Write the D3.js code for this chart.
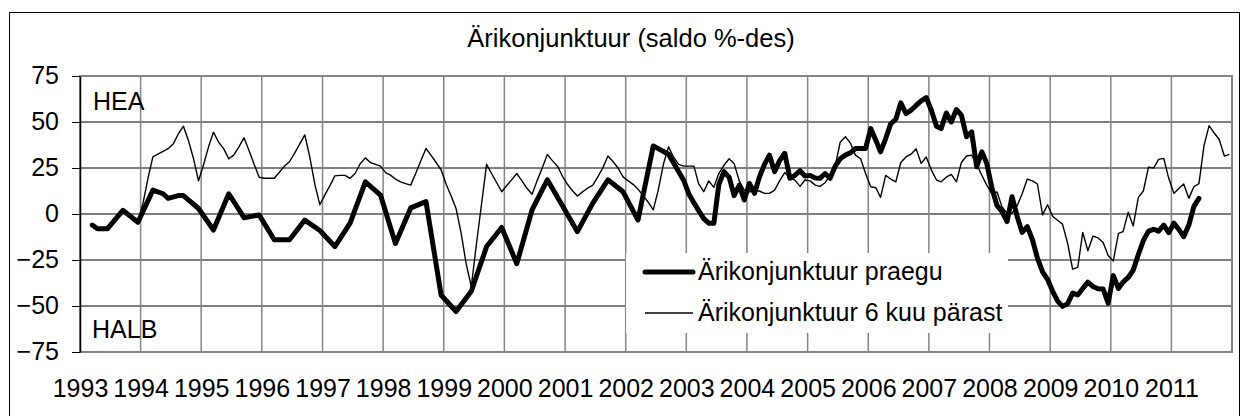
<!DOCTYPE html>
<html>
<head>
<meta charset="utf-8">
<script src="https://cdnjs.cloudflare.com/ajax/libs/d3/7.8.5/d3.min.js"></script>
<style>
  body { margin: 0; background: #fff; }
  text { font-family: "Liberation Sans", Arial, sans-serif; fill: #000; }
</style>
</head>
<body>
<div id="chart"></div>
<script>
// tick labels
var years = ["1993","1994","1995","1996","1997","1998","1999","2000","2001","2002",
             "2003","2004","2005","2006","2007","2008","2009","2010","2011"];
var yTicks = [-75, -50, -25, 0, 25, 50, 75];

// Ärikonjunktuur praegu - quarterly (and a few extra points) until 2002
var praeguDates = ["1993-03","1993-04","1993-06","1993-09","1993-12",
  "1994-03","1994-05","1994-06","1994-08","1994-09","1994-12",
  "1995-03","1995-06","1995-09","1995-12","1996-03","1996-06","1996-09","1996-12",
  "1997-03","1997-06","1997-09","1997-12","1998-03","1998-06","1998-09","1998-12",
  "1999-03","1999-06","1999-09","1999-12","2000-03","2000-06","2000-09","2000-12",
  "2001-03","2001-06","2001-09","2001-12","2002-03","2002-06","2002-09","2002-12"];
var praeguValues = [-6,-8,-8,2,-4.5,
  13,11,8.5,10,10,3,
  -8.7,11,-2,-0.5,-14,-14,-3.3,-9,
  -17.7,-5,17.5,10.3,-16,3.3,6.7,-44,
  -53,-42,-17.7,-7.3,-27,2.2,18.6,4.5,
  -9.6,5.8,18.6,12.1,-3.3,37,32.5,18.4];

// Ärikonjunktuur praegu - monthly from 2003-01
var praeguMonthlyStart = "2003-01";
var praeguMonthly = [
  11,6,2,-2.5,-5,-5,16,23,20,10,15.7,7.6,                       // 2003
  16.6,11.2,20,27,32,23,29,33,19.4,21,23.5,20.6,                // 2004
  21,19.5,19.4,22,19.4,26,30,32,33.3,35.6,35.6,35.6,            // 2005
  46.4,40,33.8,41,49,51.5,60.4,54.6,56.4,59,61.5,63.3,          // 2006
  56.4,47.7,46.4,54.9,50,56.8,53.7,42,44.6,25.7,33.8,27.5,      // 2007
  14,4.5,1.4,-4.1,9.4,-1.3,-10,-6.9,-14,-24,-31.5,-35.5,        // 2008
  -42,-47.5,-50.2,-48.8,-43,-44,-40.5,-37,-39.5,-40.6,-40.8,-48.4, // 2009
  -33.5,-40.5,-37,-34.5,-30.5,-22,-14.5,-9.3,-8.3,-9.3,-6,-10.1, // 2010
  -5,-8.5,-12.3,-6,4,8.5                                         // 2011
];

// Ärikonjunktuur 6 kuu pärast - monthly from 1993-12
var paristStart = "1993-12";
var paristValues = [
  -4,                                                            // 1993
  6,20,31,32.5,34,35.5,38,43.5,47.7,40,30,18,                    // 1994
  27,37,44.5,39,35.5,30,32,36.5,41.4,34.5,27,20,                 // 1995
  19.4,19.4,19.4,22.7,26,28.4,33,38,43,31,16,5,                  // 1996
  10.5,15.7,20.7,21,21,19.4,22,27.3,30.5,28,27,26,               // 1997
  22.5,21,19,17.5,16.5,15.7,22,29,35.6,32,28,24,                 // 1998
  16,9.5,3,-10.5,-27,-39.4,-17,5,27,22,17,12.1,                  // 1999
  15.5,18.8,22,18,14,10.7,18,25,32.4,29,26,20.5,                 // 2000
  16,12.5,9.8,12,14,15.5,20,25,31.5,28.5,25,20.2,                // 2001
  18,16,13.5,10,6.5,2.2,13,27,36.5,31,27,26,                     // 2002
  26,26,16.5,12.1,18,14.5,22,26.5,30,27.5,18,13,                 // 2003
  12,12.5,12.5,11.2,11.2,13,18,22.5,19.5,18.4,15,18.5,           // 2004
  18,15.7,15,17,21,26,39,42,38.5,32,30,22,                       // 2005
  14.8,14.3,9,21,19,17.5,28,31,32.5,35.5,27.5,31,                // 2006
  24,18.5,17.5,20,21.5,17.5,28,31.5,32,27,21,15.7,               // 2007
  11,12,4,0.4,0.4,4.5,11,19,18,16.3,-0.5,5,                      // 2008
  -1.3,-3.5,-5.5,-16,-30,-29,-10,-20,-12,-13,-15.5,-22.5,        // 2009
  -25.5,-10.5,-9.6,1,-6.5,9,12.5,25.5,25,29.7,30.2,19.4,         // 2010
  11.2,14,16.3,8.5,14.8,16.5,37,48,44,40.5,31.5,32.4             // 2011
];

var seriesNames = ["Ärikonjunktuur praegu", "Ärikonjunktuur 6 kuu pärast"];
var titleText = "Ärikonjunktuur (saldo %-des)";

var w = 1248, h = 416;
var fs = 25;
var parseMonth = d3.timeParse("%Y-%m");

// points sit in the middle of their month
function midMonth(s) { return d3.timeDay.offset(parseMonth(s), 15); }

function monthlySeries(start, values) {
  var d0 = parseMonth(start);
  return values.map(function(v, i) {
    return { date: d3.timeDay.offset(d3.timeMonth.offset(d0, i), 15), value: v };
  });
}

var praegu = praeguDates.map(function(d, i) {
  return { date: midMonth(d), value: praeguValues[i] };
}).concat(monthlySeries(praeguMonthlyStart, praeguMonthly));
var parist = monthlySeries(paristStart, paristValues);

var svg = d3.select("#chart").append("svg")
  .attr("width", w)
  .attr("height", h);

svg.append("rect").attr("width", w).attr("height", h).attr("fill", "#fff");

// outer chart frame
svg.append("rect")
  .attr("x", 9.5).attr("y", 12.5)
  .attr("width", 1230).attr("height", 420)
  .attr("fill", "none")
  .attr("stroke", "#000")
  .attr("stroke-width", 1);

var x = d3.scaleTime()
  .domain([new Date(1993, 0, 1), new Date(2012, 0, 1)])
  .range([80, 1232]);
var y = d3.scaleLinear()
  .domain([-75, 75])
  .range([352, 76]);

var plot = svg.append("g");

// horizontal gridlines
plot.selectAll("line.hgrid")
  .data(yTicks.filter(function(t) { return t > -75 && t < 75; }))
  .enter().append("line")
  .attr("class", "hgrid")
  .attr("x1", x.range()[0]).attr("x2", x.range()[1])
  .attr("y1", function(d) { return y(d); })
  .attr("y2", function(d) { return y(d); })
  .attr("stroke", "#000")
  .attr("stroke-width", 1);

// vertical gridlines at year starts
plot.selectAll("line.vgrid")
  .data(years.slice(1))
  .enter().append("line")
  .attr("class", "vgrid")
  .attr("x1", function(d) { return x(new Date(+d, 0, 1)); })
  .attr("x2", function(d) { return x(new Date(+d, 0, 1)); })
  .attr("y1", y(75)).attr("y2", y(-75))
  .attr("stroke", "#858585")
  .attr("stroke-width", 1.5);

// plot frame
plot.append("rect")
  .attr("x", x.range()[0]).attr("y", y(75))
  .attr("width", x.range()[1] - x.range()[0])
  .attr("height", y(-75) - y(75))
  .attr("fill", "none")
  .attr("stroke", "#858585")
  .attr("stroke-width", 2);

var line = d3.line()
  .x(function(d) { return x(d.date); })
  .y(function(d) { return y(d.value); });

plot.append("path")
  .datum(praegu)
  .attr("d", line)
  .attr("fill", "none")
  .attr("stroke", "#000")
  .attr("stroke-width", 5)
  .attr("stroke-linejoin", "round")
  .attr("stroke-linecap", "round");

plot.append("path")
  .datum(parist)
  .attr("d", line)
  .attr("fill", "none")
  .attr("stroke", "#000")
  .attr("stroke-width", 1.4)
  .attr("stroke-linejoin", "round");

// y axis
var yAxis = svg.append("g")
  .attr("transform", "translate(80,0)")
  .call(d3.axisLeft(y).tickValues(yTicks).tickSize(8).tickSizeOuter(0).tickPadding(13));
yAxis.select(".domain").attr("stroke", "#000").attr("stroke-width", 1.5);
yAxis.selectAll(".tick line").attr("stroke", "#000");
yAxis.selectAll("text")
  .attr("font-size", fs)
  .attr("font-family", null)
  .attr("dy", "0.3em");

// x axis labels, centred on the year lines
var xAxis = svg.append("g")
  .attr("transform", "translate(0," + y(-75) + ")")
  .call(d3.axisBottom(x)
    .tickValues(years.map(function(d) { return new Date(+d, 0, 1); }))
    .tickFormat(d3.timeFormat("%Y"))
    .tickSize(0).tickPadding(27));
xAxis.select(".domain").remove();
xAxis.selectAll("text")
  .attr("font-size", fs)
  .attr("font-family", null);

// HEA / HALB
svg.append("text").attr("x", 93).attr("y", 110).attr("font-size", fs).text("HEA");
svg.append("text").attr("x", 92).attr("y", 338).attr("font-size", fs).text("HALB");

// legend
var legend = svg.append("g").attr("transform", "translate(626,253)");
legend.append("rect")
  .attr("width", 382).attr("height", 80)
  .attr("fill", "#fff");
var legendRows = legend.selectAll("g.row")
  .data(seriesNames)
  .enter().append("g")
  .attr("class", "row")
  .attr("transform", function(d, i) { return "translate(0," + (19 + i * 41) + ")"; });
legendRows.append("line")
  .attr("x1", 19).attr("x2", 67)
  .attr("stroke", "#000")
  .attr("stroke-width", function(d, i) { return i === 0 ? 5 : 1.4; })
  .attr("stroke-linecap", function(d, i) { return i === 0 ? "round" : "butt"; });
legendRows.append("text")
  .attr("x", 72)
  .attr("y", 8)
  .attr("font-size", fs)
  .text(function(d) { return d; });

// title
svg.append("text")
  .attr("x", 631).attr("y", 47)
  .attr("text-anchor", "middle")
  .attr("font-size", 25.5)
  .text(titleText);
</script>
</body>
</html>
